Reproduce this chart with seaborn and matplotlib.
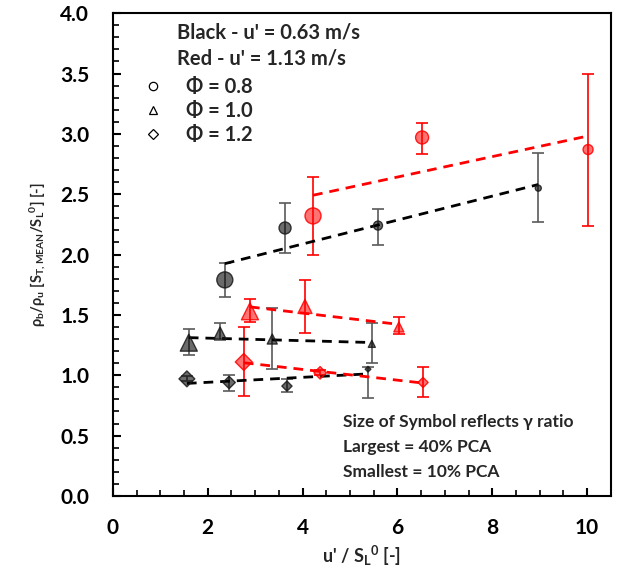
import numpy as np
import pandas as pd
import matplotlib
matplotlib.use("Agg")
import matplotlib.pyplot as plt
from matplotlib.lines import Line2D
from matplotlib.ticker import MultipleLocator, FormatStrFormatter
import seaborn as sns

sns.set_theme(style="white")
plt.rcParams['font.family'] = ['Lato', 'DejaVu Sans']
plt.rcParams['font.weight'] = 'bold'
plt.rcParams['mathtext.default'] = 'regular'

# ---- data ----
# Black: u' = 0.63 m/s ; Red: u' = 1.13 m/s
blk_c_x = [2.36, 3.63, 5.59, 8.97]
blk_c_y = [1.79, 2.22, 2.24, 2.55]
blk_c_lo = [1.65, 2.01, 2.08, 2.27]
blk_c_hi = [1.93, 2.43, 2.38, 2.84]
blk_c_sz = [16, 12, 9, 6]

red_c_x = [4.22, 6.52, 10.02]
red_c_y = [2.32, 2.97, 2.87]
red_c_lo = [2.00, 2.83, 2.24]
red_c_hi = [2.64, 3.09, 3.50]
red_c_sz = [16, 13, 10]

blk_t_x = [1.60, 2.26, 3.36, 5.46]
blk_t_y = [1.27, 1.35, 1.30, 1.26]
blk_t_lo = [1.17, 1.29, 1.05, 1.10]
blk_t_hi = [1.38, 1.43, 1.56, 1.43]
blk_t_sz = [17, 12, 10, 7]

red_t_x = [2.89, 4.05, 6.03]
red_t_y = [1.53, 1.57, 1.40]
red_t_lo = [1.44, 1.35, 1.34]
red_t_hi = [1.63, 1.79, 1.48]
red_t_sz = [17, 14, 10]

blk_d_x = [1.56, 2.45, 3.67, 5.38]
blk_d_y = [0.97, 0.94, 0.91, 1.05]
blk_d_lo = [0.95, 0.87, 0.86, 0.81]
blk_d_hi = [0.99, 1.00, 0.97, 1.07]
blk_d_sz = [14, 11, 9, 5]

red_d_x = [2.76, 4.37, 6.54]
red_d_y = [1.11, 1.02, 0.94]
red_d_lo = [0.83, 1.00, 0.82]
red_d_hi = [1.40, 1.04, 1.07]
red_d_sz = [15, 11, 9]

series = [
    (blk_c_x, blk_c_y, blk_c_lo, blk_c_hi, blk_c_sz, 'o', 'black'),
    (red_c_x, red_c_y, red_c_lo, red_c_hi, red_c_sz, 'o', 'red'),
    (blk_t_x, blk_t_y, blk_t_lo, blk_t_hi, blk_t_sz, '^', 'black'),
    (red_t_x, red_t_y, red_t_lo, red_t_hi, red_t_sz, '^', 'red'),
    (blk_d_x, blk_d_y, blk_d_lo, blk_d_hi, blk_d_sz, 'D', 'black'),
    (red_d_x, red_d_y, red_d_lo, red_d_hi, red_d_sz, 'D', 'red'),
]

fig = plt.figure(figsize=(6.17, 5.72), dpi=100)
ax = fig.add_axes([0.183, 0.133, 0.807, 0.844])

px2pt = 0.72
for x, y, lo, hi, sz, mk, col in series:
    x = np.array(x); y = np.array(y)
    df = pd.DataFrame({'x': x, 'y': y})
    ecol = '#5a5a5a' if col == 'black' else 'red'
    yerr = np.vstack([y - np.array(lo), np.array(hi) - y])
    ax.errorbar(x, y, yerr=yerr, fmt='none', ecolor=ecol, elinewidth=1.2,
                capsize=4, capthick=1.2, zorder=2)
    sns.regplot(data=df, x='x', y='y', scatter=False, ci=None, truncate=True,
                ax=ax, line_kws=dict(color=col, linestyle=(0, (3.5, 2.5)),
                                     linewidth=2, zorder=3))
    scale = 0.8 if mk == 'D' else 1.0
    s = [(d * px2pt * scale) ** 2 for d in sz]
    fc = (0.0, 0.0, 0.0, 0.58) if col == 'black' else (1.0, 0.0, 0.0, 0.55)
    ec = (0.1, 0.1, 0.1, 0.85) if col == 'black' else (1.0, 0.0, 0.0, 0.85)
    sns.scatterplot(data=df, x='x', y='y', marker=mk, s=s, color=fc,
                    edgecolor=ec, linewidth=1, ax=ax, zorder=4, legend=False)

ax.set_xlim(0, 10.5)
ax.set_ylim(0, 4.0)
ax.xaxis.set_major_locator(MultipleLocator(2))
ax.xaxis.set_minor_locator(MultipleLocator(0.5))
ax.yaxis.set_major_locator(MultipleLocator(0.5))
ax.yaxis.set_minor_locator(MultipleLocator(0.1))
ax.yaxis.set_major_formatter(FormatStrFormatter('%.1f'))
ax.tick_params(which='both', direction='in', bottom=True, left=True,
               top=False, right=False, colors='black')
ax.tick_params(which='major', length=6, width=1.5, labelsize=15)
ax.tick_params(axis='x', which='major', pad=16)
ax.tick_params(axis='y', which='major', pad=17)
ax.tick_params(which='minor', length=4, width=1.2)
for lab in ax.get_xticklabels() + ax.get_yticklabels():
    lab.set_fontweight('bold')
for sp in ax.spines.values():
    sp.set_color('black')
    sp.set_linewidth(1.5)

ax.set_xlabel("u' / S$_{L}$$^{0}$ [-]", fontsize=13, fontweight='bold', labelpad=4)
ax.set_ylabel("ρ$_{b}$/ρ$_{u}$ [S$_{T, MEAN}$/S$_{L}$$^{0}$] [-]", fontsize=10.5,
              fontweight='bold', labelpad=9)

ax.text(0.128, 0.959, "Black - u' = 0.63 m/s", transform=ax.transAxes,
        fontsize=14.5, fontweight='bold', va='center', ha='left')
ax.text(0.128, 0.907, "Red - u' = 1.13 m/s", transform=ax.transAxes,
        fontsize=14.5, fontweight='bold', va='center', ha='left')

handles = [Line2D([], [], marker=m, linestyle='none', markerfacecolor='none',
                  markeredgecolor='black', markersize=ms, markeredgewidth=0.9)
           for m, ms in [('o', 6), ('^', 6), ('D', 5)]]
labels = ['Φ = 0.8', 'Φ = 1.0', 'Φ = 1.2']
leg = ax.legend(handles, labels, loc='upper left', bbox_to_anchor=(0.045, 0.885),
                frameon=False, prop=dict(size=14.5, weight='bold'),
                handlelength=1.0, handletextpad=1.1, labelspacing=0.2,
                borderaxespad=0)

for i, t in enumerate(["Size of Symbol reflects γ ratio", "Largest = 40% PCA",
                       "Smallest = 10% PCA"]):
    ax.text(0.462, 0.153 - i * 0.052, t, transform=ax.transAxes, fontsize=12.5,
            fontweight='bold', va='center', ha='left')

fig.savefig("out.png", dpi=100)
